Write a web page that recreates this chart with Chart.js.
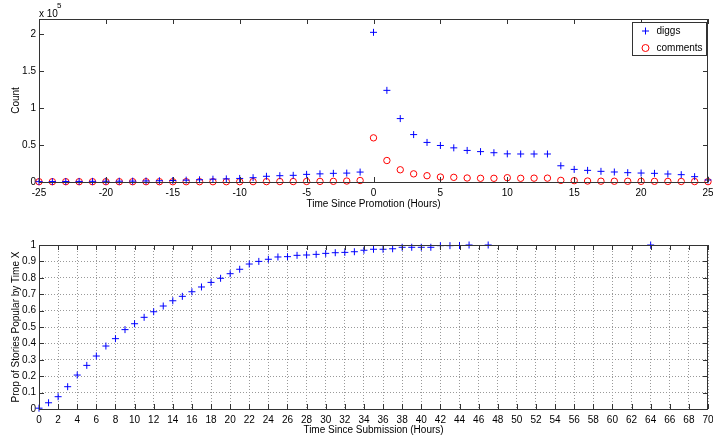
<!DOCTYPE html>
<html><head><meta charset="utf-8">
<script src="https://cdn.jsdelivr.net/npm/chart.js@4/dist/chart.umd.min.js"></script>
<style>
html,body{margin:0;padding:0;background:#fff;width:713px;height:436px;overflow:hidden}
canvas{position:absolute;left:0}
#c1{top:0}
#c2{top:225px}
</style></head><body>
<canvas id="c1" width="713" height="215"></canvas>
<canvas id="c2" width="713" height="211"></canvas>
<script>
// ---- Top chart data: hours since promotion ----
const promoHours = [-25,-24,-23,-22,-21,-20,-19,-18,-17,-16,-15,-14,-13,-12,-11,-10,-9,-8,-7,-6,-5,-4,-3,-2,-1,
  0,1,2,3,4,5,6,7,8,9,10,11,12,13,14,15,16,17,18,19,20,21,22,23,24,25];
const diggCounts = [500,600,700,800,900,1000,1100,1200,1400,1700,2000,2500,3000,3800,4200,4800,5800,7700,8500,9000,10300,11000,11700,12000,13400,
  202000,123700,85600,64000,53400,49300,46100,42600,41000,39500,38000,37800,37800,37800,21900,17000,15700,14400,13500,12600,12100,11700,10800,9900,7200,2700];
const commentCounts = [400,400,400,400,400,400,400,400,400,400,400,400,400,400,400,400,500,500,600,600,700,800,900,1300,2000,
  59600,29000,16500,11000,8500,6700,6300,5400,5000,5000,5800,5000,5200,5200,2200,1800,1300,1100,1000,1000,900,900,800,700,600,500];
const countTickValues = [0, 50000, 100000, 150000, 200000];
const countTickLabels = ['0', '0.5', '1', '1.5', '2'];

// ---- Bottom chart data: hours since submission ----
const subHours = [0,1,2,3,4,5,6,7,8,9,10,11,12,13,14,15,16,17,18,19,20,21,22,23,24,25,26,27,28,29,30,31,32,33,34,35,36,37,38,39,40,41,42,43,44,45,47,64];
const propPopular = [0.005,0.038,0.075,0.136,0.207,0.266,0.323,0.384,0.429,0.484,0.52,0.559,0.593,0.628,0.66,0.687,0.715,0.744,0.772,0.797,0.825,0.852,0.884,0.9,0.913,0.927,0.929,0.937,0.939,0.943,0.949,0.953,0.955,0.959,0.968,0.974,0.974,0.977,0.986,0.986,0.986,0.986,0.996,0.996,0.997,1.0,1.0,1.0];

const FONT = '"Liberation Sans", Arial, Helvetica, sans-serif';
Chart.defaults.font.family = FONT;
Chart.defaults.font.size = 10;
Chart.defaults.color = '#000';

const frameTicks = {
  id: 'frameTicks',
  afterDatasetsDraw(chart) {
    const {ctx, chartArea: a, scales: {x, y}} = chart;
    const L = 5;
    ctx.save();
    ctx.strokeStyle = '#333';
    ctx.lineWidth = 1;
    ctx.beginPath();
    x.ticks.forEach(t => {
      const px = Math.round(x.getPixelForValue(t.value)) + 0.5;
      ctx.moveTo(px, a.bottom); ctx.lineTo(px, a.bottom - L);
      ctx.moveTo(px, a.top); ctx.lineTo(px, a.top + L);
    });
    y.ticks.forEach(t => {
      const py = Math.round(y.getPixelForValue(t.value)) + 0.5;
      ctx.moveTo(a.left, py); ctx.lineTo(a.left + L, py);
      ctx.moveTo(a.right, py); ctx.lineTo(a.right - L, py);
    });
    ctx.stroke();
    ctx.strokeRect(Math.round(a.left) + 0.5, Math.round(a.top) + 0.5,
                   Math.round(a.right - a.left) - 1, Math.round(a.bottom - a.top));
    ctx.restore();
  }
};

const legendBox = {
  id: 'legendBox',
  afterDraw(chart) {
    const {ctx, chartArea: a} = chart;
    const w = 74, h = 33;
    const bx = Math.round(a.right) - w - 2 + 0.5, by = Math.round(a.top) + 3 + 0.5;
    ctx.save();
    ctx.fillStyle = '#fff';
    ctx.fillRect(bx, by, w, h);
    ctx.strokeStyle = '#333';
    ctx.lineWidth = 1;
    ctx.strokeRect(bx, by, w, h);
    ctx.font = '10px ' + FONT;
    ctx.textBaseline = 'middle';
    ctx.fillStyle = '#000';
    chart.data.datasets.forEach((ds, i) => {
      const cy = by + 8.5 + i * 17;
      const cx = bx + 13;
      ctx.strokeStyle = ds.borderColor;
      ctx.lineWidth = 1;
      ctx.beginPath();
      if (ds.pointStyle === 'cross') {
        ctx.moveTo(cx - 3.5, cy); ctx.lineTo(cx + 3.5, cy);
        ctx.moveTo(cx, cy - 3.5); ctx.lineTo(cx, cy + 3.5);
      } else {
        ctx.arc(cx, cy, 3.5, 0, Math.PI * 2);
      }
      ctx.stroke();
      ctx.fillText(ds.label, bx + 24, cy);
    });
    ctx.restore();
  }
};

const multiplierLabel = {
  id: 'multiplierLabel',
  afterDraw(chart) {
    const {ctx, chartArea: a} = chart;
    ctx.save();
    ctx.fillStyle = '#000';
    ctx.textBaseline = 'alphabetic';
    ctx.font = '10px ' + FONT;
    ctx.fillText('x 10', a.left, a.top - 2);
    ctx.font = '8px ' + FONT;
    ctx.fillText('5', a.left + 18, a.top - 11);
    ctx.restore();
  }
};

function zeroPad(s) { s.paddingLeft = 0; s.paddingRight = 0; s.paddingTop = 0; s.paddingBottom = 0; }

new Chart(document.getElementById('c1'), {
  type: 'scatter',
  data: {
    datasets: [
      { label: 'diggs', data: promoHours.map((h, i) => ({x: h, y: diggCounts[i]})),
        pointStyle: 'cross', radius: 3.5, borderColor: '#0000ff', backgroundColor: 'rgba(0,0,0,0)', borderWidth: 1, clip: false },
      { label: 'comments', data: promoHours.map((h, i) => ({x: h, y: commentCounts[i]})),
        pointStyle: 'circle', radius: 3.2, borderColor: '#ff0000', backgroundColor: 'rgba(0,0,0,0)', borderWidth: 1, clip: false }
    ]
  },
  options: {
    responsive: false, animation: false, devicePixelRatio: 1,
    layout: { padding: { left: 0, top: 19, right: 4, bottom: 0 } },
    plugins: { legend: { display: false }, tooltip: { enabled: false } },
    scales: {
      x: {
        type: 'linear', min: -25, max: 25,
        ticks: { stepSize: 5, padding: 5, maxRotation: 0, autoSkip: false },
        grid: { display: false, drawTicks: false }, border: { display: false },
        title: { display: true, text: 'Time Since Promotion (Hours)', padding: { top: 0, bottom: 5 } },
        afterFit(s) { s.height = 33; zeroPad(s); }
      },
      y: {
        type: 'linear', min: 0, max: 220000,
        ticks: { padding: 3, autoSkip: false,
          callback: (v) => { const k = countTickValues.indexOf(v); return k >= 0 ? countTickLabels[k] : ''; } },
        afterBuildTicks(s) { s.ticks = countTickValues.map(v => ({ value: v })); },
        grid: { display: false, drawTicks: false }, border: { display: false },
        title: { display: true, text: 'Count', padding: { top: 10, bottom: 0 } },
        afterFit(s) { s.width = 39; zeroPad(s); }
      }
    }
  },
  plugins: [frameTicks, legendBox, multiplierLabel]
});

new Chart(document.getElementById('c2'), {
  type: 'scatter',
  data: {
    datasets: [
      { label: 'prop', data: subHours.map((h, i) => ({x: h, y: propPopular[i]})),
        pointStyle: 'cross', radius: 3.5, borderColor: '#0000ff', backgroundColor: 'rgba(0,0,0,0)', borderWidth: 1, clip: false }
    ]
  },
  options: {
    responsive: false, animation: false, devicePixelRatio: 1,
    layout: { padding: { left: 0, top: 20, right: 4, bottom: 0 } },
    plugins: { legend: { display: false }, tooltip: { enabled: false } },
    scales: {
      x: {
        type: 'linear', min: 0, max: 70,
        ticks: { stepSize: 2, padding: 5, maxRotation: 0, autoSkip: false },
        grid: { display: true, drawTicks: false, color: '#999', lineWidth: 1 },
        border: { display: false, dash: [1, 2] },
        title: { display: true, text: 'Time Since Submission (Hours)', padding: { top: 0, bottom: 0 } },
        afterFit(s) { s.height = 27; zeroPad(s); }
      },
      y: {
        type: 'linear', min: 0, max: 1,
        ticks: { stepSize: 0.1, padding: 3, callback: (v) => String(Math.round(v * 10) / 10) },
        grid: { display: true, drawTicks: false, color: '#999', lineWidth: 1 },
        border: { display: false, dash: [1, 2] },
        title: { display: true, text: 'Prop of Stories Popular by Time X', padding: { top: 10, bottom: 0 } },
        afterFit(s) { s.width = 39; zeroPad(s); }
      }
    }
  },
  plugins: [frameTicks]
});
</script>
</body></html>
